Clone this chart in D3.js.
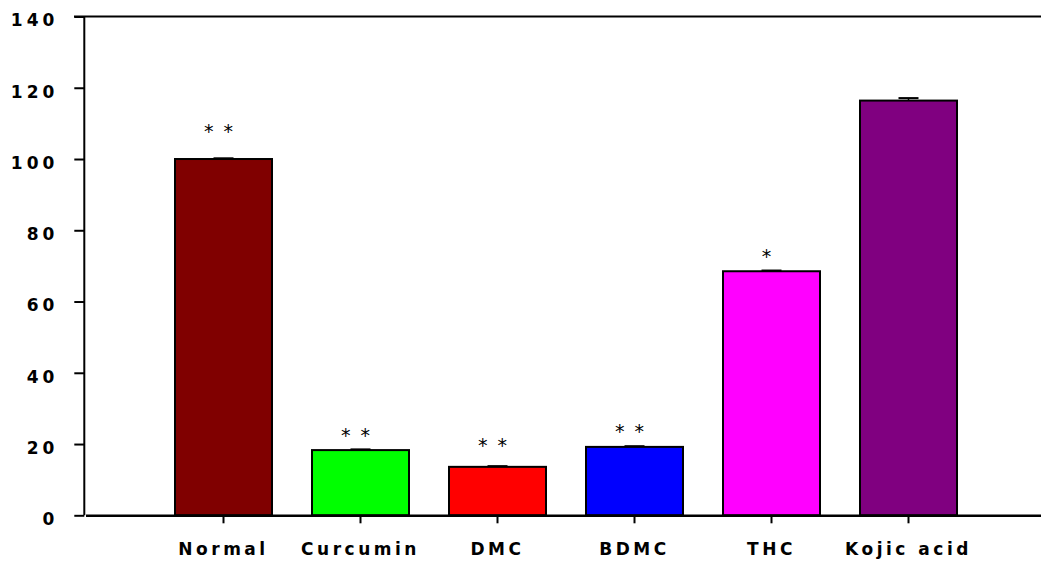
<!DOCTYPE html>
<html><head><meta charset="utf-8">
<script src="https://cdn.jsdelivr.net/npm/d3@7"></script>
<style>
html,body{margin:0;padding:0;background:#fff;}
text{font-family:"DejaVu Sans",sans-serif;font-weight:bold;}
</style></head>
<body><svg id="c" width="1041" height="561"></svg>
<script>
const categories = ["Normal","Curcumin","DMC","BDMC","THC","Kojic acid"];
const values = [100, 18.3, 13.6, 19.2, 68.5, 116.4];
const errors = [0.2, 0.2, 0.2, 0.2, 0.2, 0.7];
const colors = ["#800000","#00ff00","#ff0000","#0000ff","#ff00ff","#800080"];
const marks = ["* *","* *","* *","* *","*",""];
const markLevels = [108.6, 23.4, 20.6, 24.5, 73.6, 0];
const yTicks = [0,20,40,60,80,100,120,140];

const svg = d3.select("#c");
const y = d3.scaleLinear().domain([0,140]).range([515.3,16.5]);
const x = d3.scaleBand().domain(categories).range([135,997]).paddingInner(0.292).paddingOuter(0.292);

// top line
svg.append("line").attr("x1",74).attr("x2",1041).attr("y1",y(140)).attr("y2",y(140))
  .attr("stroke","#000").attr("stroke-width",2);

// y axis
const ya = svg.append("g").attr("transform","translate(84.3,0)")
  .call(d3.axisLeft(y).tickValues(yTicks).tickSize(10).tickPadding(16).tickFormat(d3.format("d")));
ya.select(".domain").attr("stroke-width",2).attr("d",`M0,${y(140)}V${y(0)}`);
ya.selectAll(".tick line").attr("stroke-width",2);
ya.selectAll(".tick text").attr("font-size",17).attr("letter-spacing","4px")
  .attr("fill","#000").attr("dy","0.55em");

// bars
svg.selectAll("rect.bar").data(categories).enter().append("rect").attr("class","bar")
  .attr("x",d=>x(d)).attr("width",x.bandwidth())
  .attr("y",(d,i)=>y(values[i])).attr("height",(d,i)=>y(0)-y(values[i]))
  .attr("fill",(d,i)=>colors[i]).attr("stroke","#000").attr("stroke-width",2);

// error bars
const eb = svg.selectAll("g.err").data(categories).enter().append("g").attr("class","err");
eb.append("line").attr("x1",d=>x(d)+x.bandwidth()/2).attr("x2",d=>x(d)+x.bandwidth()/2)
  .attr("y1",(d,i)=>y(values[i])).attr("y2",(d,i)=>y(values[i]+errors[i]))
  .attr("stroke","#000").attr("stroke-width",1.5);
eb.append("line").attr("x1",d=>x(d)+x.bandwidth()/2-10).attr("x2",d=>x(d)+x.bandwidth()/2+10)
  .attr("y1",(d,i)=>y(values[i]+errors[i])).attr("y2",(d,i)=>y(values[i]+errors[i]))
  .attr("stroke","#000").attr("stroke-width",2);

// x axis
const xa = svg.append("g").attr("transform",`translate(0,${y(0)})`)
  .call(d3.axisBottom(x).tickSize(8).tickPadding(20));
xa.select(".domain").attr("stroke-width",2.5).attr("d","M86,0.5H1041");
xa.selectAll(".tick line").attr("stroke-width",2);
xa.selectAll(".tick text").attr("font-size",17).attr("letter-spacing","3.5px").attr("fill","#000");

// significance marks
svg.selectAll("text.sig").data(categories).enter().append("text").attr("class","sig")
  .attr("x",d=>x(d)+x.bandwidth()/2-4).attr("y",(d,i)=>y(markLevels[i])+10)
  .attr("text-anchor","middle").attr("font-size",19).attr("letter-spacing","2px")
  .style("font-weight","normal").style("white-space","pre")
  .text((d,i)=>marks[i]);
</script></body></html>
